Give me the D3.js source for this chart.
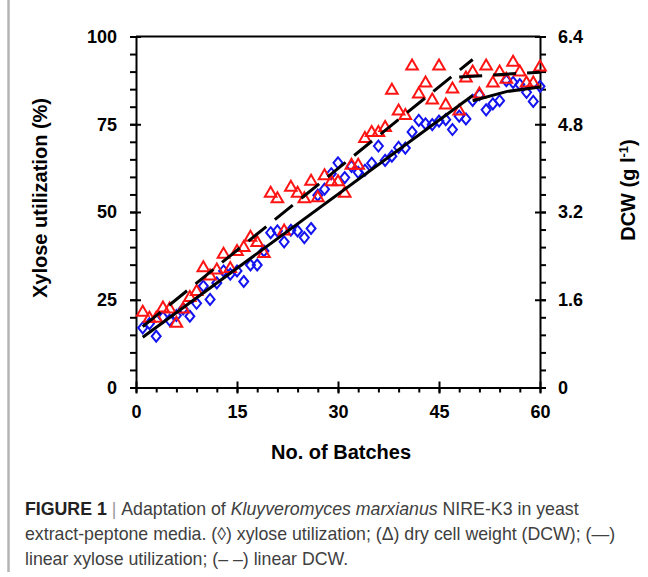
<!DOCTYPE html>
<html lang="en">
<head>
    <meta charset="UTF-8" />
    <title>Figure 1</title>
    <script src="https://d3js.org/d3.v7.min.js"></script>
    <style>
        body { margin: 0; background: #fff; }
        .tick text { font-family: "Liberation Sans", Arial, sans-serif; font-weight: bold; font-size: 18px; fill: #000; }
        .title { font-family: "Liberation Sans", Arial, sans-serif; font-weight: bold; font-size: 20px; fill: #000; }
        .caption { font-family: "Liberation Sans", Arial, sans-serif; font-size: 18px; fill: #404040; }
    </style>
</head>
<body>
<div class="canvas"></div>
<script>
    // batch numbers
    const batches = [1,2,3,4,5,6,7,8,9,10,11,12,13,14,15,16,17,18,19,20,
        21,22,23,24,25,26,27,28,29,30,31,32,33,34,35,36,37,38,39,40,
        41,42,43,44,45,46,47,48,49,50,51,52,53,54,55,56,57,58,59,60];

    // xylose utilization (%) - diamonds
    const xylose = [17.0,18.2,14.6,20.0,19.2,20.5,22.4,20.3,24.0,28.9,
        25.1,29.8,33.2,32.3,33.2,30.2,34.9,34.9,38.9,44.1,
        44.6,41.5,44.8,44.6,42.7,45.3,54.8,56.5,60.9,64.0,
        59.8,63.0,61.3,61.9,63.9,68.8,64.7,65.9,68.4,68.2,
        72.8,76.1,75.1,74.9,75.9,76.3,73.5,77.3,76.5,81.8,
        83.4,79.1,80.8,81.7,87.4,86.9,86.3,84.1,81.5,85.8];

    // dry cell weight (g/l) - triangles
    const dcw = [1.39,1.28,1.28,1.47,1.45,1.19,1.45,1.66,1.77,2.20,
        2.05,2.16,2.45,2.19,2.50,2.57,2.76,2.66,2.46,3.56,
        3.46,2.87,3.67,3.56,3.46,3.78,3.48,3.88,3.77,3.77,
        3.56,4.07,4.07,4.56,4.67,4.67,4.76,5.44,5.06,4.98,
        5.88,5.37,5.57,5.26,5.88,5.17,5.46,5.06,5.66,5.77,
        5.37,5.88,5.57,5.77,5.64,5.95,5.77,5.57,5.57,5.86];

    // linear fits: [batch, value]
    const xyloseFit1 = [[1, 14.3], [50, 83.2]];
    const xyloseFit2 = [[50, 81.7], [55, 84.3], [60, 85.6]];
    const dcwFit1 = [[1, 1.11], [50, 5.98]];
    const dcwFit2 = [[48, 5.66], [60, 5.75]];

    // ticks
    const xTicks = [0, 15, 30, 45, 60];
    const yLeftTicks = [0, 25, 50, 75, 100];
    const yRightTicks = [0, 1.6, 3.2, 4.8, 6.4];

    const captionLines = [
        [["FIGURE 1", "b"], [" | ", "sep"], ["Adaptation of ", ""], ["Kluyveromyces marxianus", "i"], [" NIRE-K3 in yeast", ""]],
        [["extract-peptone media. (\u25CA) xylose utilization; (\u0394) dry cell weight (DCW); (\u2014)", ""]],
        [["linear xylose utilization; (\u2013 \u2013) linear DCW.", ""]]
    ];

    const W = 648, H = 577;
    const pLeft = 136, pRight = 540, pTop = 36.5, pBottom = 387.5;

    const svg = d3.select(".canvas").append("svg")
        .attr("width", W).attr("height", H);

    const x = d3.scaleLinear().domain([0, 60]).range([pLeft, pRight]);
    const yL = d3.scaleLinear().domain([0, 100]).range([pBottom, pTop]);
    const yR = d3.scaleLinear().domain([0, 6.4]).range([pBottom, pTop]);

    // gray page border on the left
    svg.append("line").attr("x1", 8.5).attr("x2", 8.5).attr("y1", 0).attr("y2", 572)
        .attr("stroke", "#b4b4b4").attr("stroke-width", 2.5);

    // frame top
    svg.append("line").attr("x1", pLeft).attr("x2", pRight).attr("y1", pTop).attr("y2", pTop)
        .attr("stroke", "#000").attr("stroke-width", 2);

    function styleAxis(g) {
        g.selectAll("path, line").attr("stroke", "#000").attr("stroke-width", 2);
    }

    // left axis: minor outside, major both sides
    svg.append("g").attr("transform", `translate(${pLeft},0)`)
        .call(d3.axisLeft(yL).tickValues(d3.range(0, 101, 5)).tickSize(6).tickFormat("").tickSizeOuter(0))
        .call(styleAxis);
    svg.append("g").attr("transform", `translate(${pLeft},0)`)
        .call(d3.axisLeft(yL).tickValues(yLeftTicks).tickSize(6).tickPadding(13).tickSizeOuter(0))
        .call(styleAxis).select(".domain").remove();
    svg.append("g").attr("transform", `translate(${pLeft},0)`)
        .call(d3.axisRight(yL).tickValues(yLeftTicks).tickSize(5).tickFormat(""))
        .call(styleAxis).select(".domain").remove();

    // right axis
    svg.append("g").attr("transform", `translate(${pRight},0)`)
        .call(d3.axisRight(yR).tickValues(d3.range(0, 21).map(i => i * 0.32)).tickSize(6).tickFormat("").tickSizeOuter(0))
        .call(styleAxis);
    svg.append("g").attr("transform", `translate(${pRight},0)`)
        .call(d3.axisRight(yR).tickValues(yRightTicks).tickSize(6).tickPadding(12)
            .tickFormat(d => d === 0 ? "0" : d3.format(".1f")(d)))
        .call(styleAxis).select(".domain").remove();
    svg.append("g").attr("transform", `translate(${pRight},0)`)
        .call(d3.axisLeft(yR).tickValues(yRightTicks).tickSize(5).tickFormat(""))
        .call(styleAxis).select(".domain").remove();

    // bottom axis
    svg.append("g").attr("transform", `translate(0,${pBottom})`)
        .call(d3.axisBottom(x).tickValues(d3.range(0, 61, 3)).tickSize(5).tickFormat("").tickSizeOuter(0))
        .call(styleAxis);
    svg.append("g").attr("transform", `translate(0,${pBottom})`)
        .call(d3.axisBottom(x).tickValues(xTicks).tickSize(6).tickPadding(11.5))
        .call(styleAxis).select(".domain").remove();
    svg.append("g").attr("transform", `translate(0,${pBottom})`)
        .call(d3.axisTop(x).tickValues(xTicks).tickSize(6).tickFormat(""))
        .call(styleAxis).select(".domain").remove();

    // markers
    const diamond = "M0,-5.5L4.5,0L0,5.5L-4.5,0Z";
    const triangle = "M0,-5.5L5.8,4.5L-5.8,4.5Z";

    svg.append("g").selectAll("path").data(batches).join("path")
        .attr("d", diamond)
        .attr("transform", (d, i) => `translate(${x(d)},${yL(xylose[i])})`)
        .attr("fill", "none").attr("stroke", "#1414f0").attr("stroke-width", 2);

    svg.append("g").selectAll("path").data(batches).join("path")
        .attr("d", triangle)
        .attr("transform", (d, i) => `translate(${x(d)},${yR(dcw[i])})`)
        .attr("fill", "none").attr("stroke", "#ff1414").attr("stroke-width", 2);

    // fit lines
    const lineL = d3.line().x(d => x(d[0])).y(d => yL(d[1]));
    const lineR = d3.line().x(d => x(d[0])).y(d => yR(d[1]));
    [xyloseFit1, xyloseFit2].forEach(f => {
        svg.append("path").attr("d", lineL(f)).attr("fill", "none")
            .attr("stroke", "#000").attr("stroke-width", 3);
    });
    [dcwFit1, dcwFit2].forEach(f => {
        svg.append("path").attr("d", lineR(f)).attr("fill", "none")
            .attr("stroke", "#000").attr("stroke-width", 3)
            .attr("stroke-dasharray", "23,11");
    });

    // axis titles
    svg.append("text").attr("class", "title")
        .attr("transform", "translate(47,198) rotate(-90)")
        .attr("text-anchor", "middle").text("Xylose utilization (%)");

    const rt = svg.append("text").attr("class", "title")
        .attr("transform", "translate(635,190) rotate(-90)")
        .attr("text-anchor", "middle");
    rt.append("tspan").text("DCW (g l");
    rt.append("tspan").attr("dy", -7).attr("font-size", 13).text("-1");
    rt.append("tspan").attr("dy", 7).text(")");

    svg.append("text").attr("class", "title")
        .attr("x", 341).attr("y", 459)
        .attr("text-anchor", "middle").text("No. of Batches");

    // caption
    const baselines = [515, 540, 565];
    const caps = captionLines.map((parts, li) => {
        const t = svg.append("text").attr("class", "caption");
        parts.forEach(([s, k]) => {
            const sp = t.append("tspan").text(s);
            if (k === "b") sp.attr("font-weight", "bold").attr("fill", "#222");
            if (k === "i") sp.attr("font-style", "italic");
            if (k === "sep") sp.attr("fill", "#999");
        });
        return t;
    });
    const k = 553 / caps[0].node().getComputedTextLength();
    caps.forEach((t, i) => t.attr("transform", `translate(25,${baselines[i]}) scale(${k},1)`));
</script>
</body>
</html>
